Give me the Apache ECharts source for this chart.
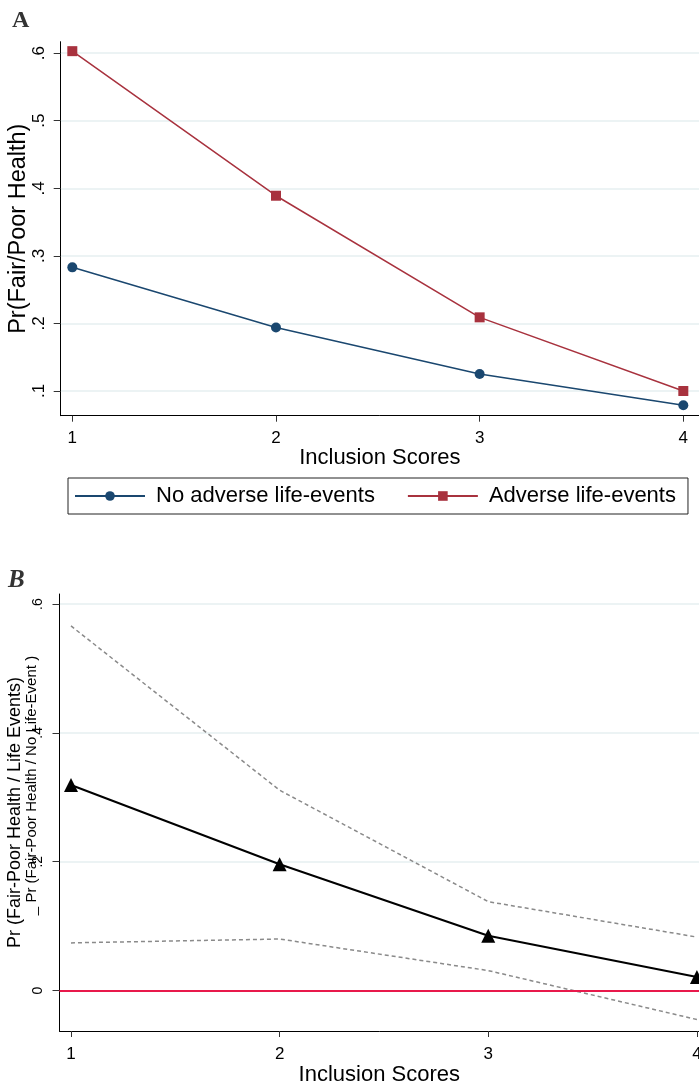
<!DOCTYPE html>
<html>
<head>
<meta charset="utf-8">
<script src="https://cdn.jsdelivr.net/npm/echarts@6/dist/echarts.min.js"></script>
<style>
  html, body { margin: 0; padding: 0; background: #fff; }
  #chart { width: 699px; height: 1086px; }
</style>
</head>
<body>
<div id="chart"></div>
<script>
// x positions shared by both panels
const scores = [1, 2, 3, 4];

// panel A: predicted probability of fair/poor health
const noAdverse = [0.283, 0.194, 0.125, 0.079];
const adverse = [0.603, 0.389, 0.209, 0.100];
const yTicksA = [0.1, 0.2, 0.3, 0.4, 0.5, 0.6];

// panel B: difference (life events - no life event) with confidence band
const diff = [0.319, 0.196, 0.085, 0.021];
const diffUpper = [0.566, 0.311, 0.138, 0.083];
const diffLower = [0.074, 0.080, 0.031, -0.045];
const yTicksB = [0, 0.2, 0.4, 0.6];

const FONT = 'Liberation Sans, Arial, sans-serif';
const GRID_COLOR = '#e6eff1';

const pairs = (ys) => scores.map((x, i) => [x, ys[i]]);
const stataLabel = (v) => (v === 0 ? '0' : v.toFixed(1).replace(/^0/, ''));

const chart = echarts.init(document.getElementById('chart'));

const xAxisBase = (gridIndex, min, max, nameGap, labelMargin) => ({
  type: 'value',
  gridIndex: gridIndex,
  min: min,
  max: max,
  name: 'Inclusion Scores',
  nameLocation: 'middle',
  nameGap: nameGap,
  nameMoveOverlap: false,
  nameTextStyle: { fontFamily: FONT, fontSize: 22, color: '#000' },
  axisLine: { onZero: false, lineStyle: { color: '#000', width: 1 } },
  axisTick: { customValues: scores, length: 6, lineStyle: { color: '#333' } },
  axisLabel: { customValues: scores, fontFamily: FONT, fontSize: 17, color: '#000', margin: labelMargin },
  splitLine: { show: false }
});

const option = {
  animation: false,
  backgroundColor: '#fff',
  title: [
    { text: 'A', left: 7, top: 4, textStyle: { fontFamily: 'Liberation Serif, Times New Roman, serif', fontWeight: 'bold', fontSize: 24, color: '#333' } },
    { text: 'B', left: 3, top: 563, textStyle: { fontFamily: 'Liberation Serif, Times New Roman, serif', fontWeight: 'bold', fontStyle: 'italic', fontSize: 25, color: '#333' } }
  ],
  legend: {
    left: 68,
    top: 478,
    data: ['No adverse life-events', 'Adverse life-events'],
    itemWidth: 70,
    itemHeight: 12,
    itemGap: 32,
    padding: [6, 12, 6, 6],
    borderColor: '#222',
    borderWidth: 1,
    textStyle: { fontFamily: FONT, fontSize: 22, lineHeight: 24, color: '#000', padding: [0, 0, 0, 6] }
  },
  grid: [
    { left: 60.7, right: 0, top: 41.7, bottom: 670.3, outerBoundsMode: 'none' },
    { left: 59.5, right: 0, top: 594, bottom: 55, outerBoundsMode: 'none' }
  ],
  xAxis: [
    xAxisBase(0, 0.943, 4.077, 31, 14),
    xAxisBase(1, 0.945, 4.01, 33, 15)
  ],
  yAxis: [
    {
      type: 'value',
      gridIndex: 0,
      min: 0.0634,
      max: 0.617,
      name: 'Pr(Fair/Poor Health)',
      nameLocation: 'middle',
      nameRotate: 90,
      nameGap: 30,
      nameMoveOverlap: false,
      nameTextStyle: { fontFamily: FONT, fontSize: 23.5, color: '#000' },
      axisLine: { show: true, onZero: false, lineStyle: { color: '#000', width: 1 } },
      axisTick: { show: true, customValues: yTicksA, length: 7, lineStyle: { color: '#333' } },
      axisLabel: { customValues: yTicksA, rotate: 90, fontFamily: FONT, fontSize: 17, color: '#000', margin: 13, formatter: stataLabel },
      splitLine: { show: true, lineStyle: { color: GRID_COLOR, width: 1.5 } }
    },
    {
      type: 'value',
      gridIndex: 1,
      min: -0.0628,
      max: 0.6156,
      name: '{a|Pr (Fair-Poor Health / Life Events)}\n{b|_ Pr (Fair-Poor Health / No Life-Event )}',
      nameLocation: 'middle',
      nameRotate: 90,
      nameGap: 19,
      nameMoveOverlap: false,
      nameTextStyle: {
        fontFamily: FONT,
        color: '#000',
        rich: {
          a: { fontFamily: FONT, fontSize: 18, lineHeight: 17, color: '#000' },
          b: { fontFamily: FONT, fontSize: 15, lineHeight: 17, color: '#000', padding: [0, 0, 0, 54] }
        }
      },
      axisLine: { show: true, onZero: false, lineStyle: { color: '#000', width: 1 } },
      axisTick: { show: true, customValues: yTicksB, length: 7, lineStyle: { color: '#333' } },
      axisLabel: { customValues: yTicksB, rotate: 90, fontFamily: FONT, fontSize: 14, color: '#000', margin: 14, formatter: stataLabel },
      splitLine: { show: true, lineStyle: { color: GRID_COLOR, width: 1.5 } }
    }
  ],
  series: [
    {
      name: 'No adverse life-events',
      type: 'line',
      xAxisIndex: 0,
      yAxisIndex: 0,
      data: pairs(noAdverse),
      symbol: 'circle',
      symbolSize: 10,
      itemStyle: { color: '#1a476f' },
      lineStyle: { color: '#1a476f', width: 1.5 }
    },
    {
      name: 'Adverse life-events',
      type: 'line',
      xAxisIndex: 0,
      yAxisIndex: 0,
      data: pairs(adverse),
      symbol: 'rect',
      symbolSize: 10,
      itemStyle: { color: '#a8323e' },
      lineStyle: { color: '#a8323e', width: 1.5 }
    },
    {
      name: 'Upper bound',
      type: 'line',
      xAxisIndex: 1,
      yAxisIndex: 1,
      data: pairs(diffUpper),
      symbol: 'none',
      lineStyle: { color: '#8a8a8a', width: 1.5, type: [4, 3] }
    },
    {
      name: 'Lower bound',
      type: 'line',
      xAxisIndex: 1,
      yAxisIndex: 1,
      data: pairs(diffLower),
      symbol: 'none',
      lineStyle: { color: '#8a8a8a', width: 1.5, type: [4, 3] }
    },
    {
      name: 'Difference',
      type: 'line',
      xAxisIndex: 1,
      yAxisIndex: 1,
      data: pairs(diff),
      symbol: 'triangle',
      symbolSize: 14,
      itemStyle: { color: '#000' },
      lineStyle: { color: '#000', width: 2 },
      markLine: {
        silent: true,
        symbol: 'none',
        label: { show: false },
        lineStyle: { color: '#e8194b', width: 2, type: 'solid' },
        data: [{ yAxis: 0 }]
      }
    }
  ]
};

chart.setOption(option);
</script>
</body>
</html>
